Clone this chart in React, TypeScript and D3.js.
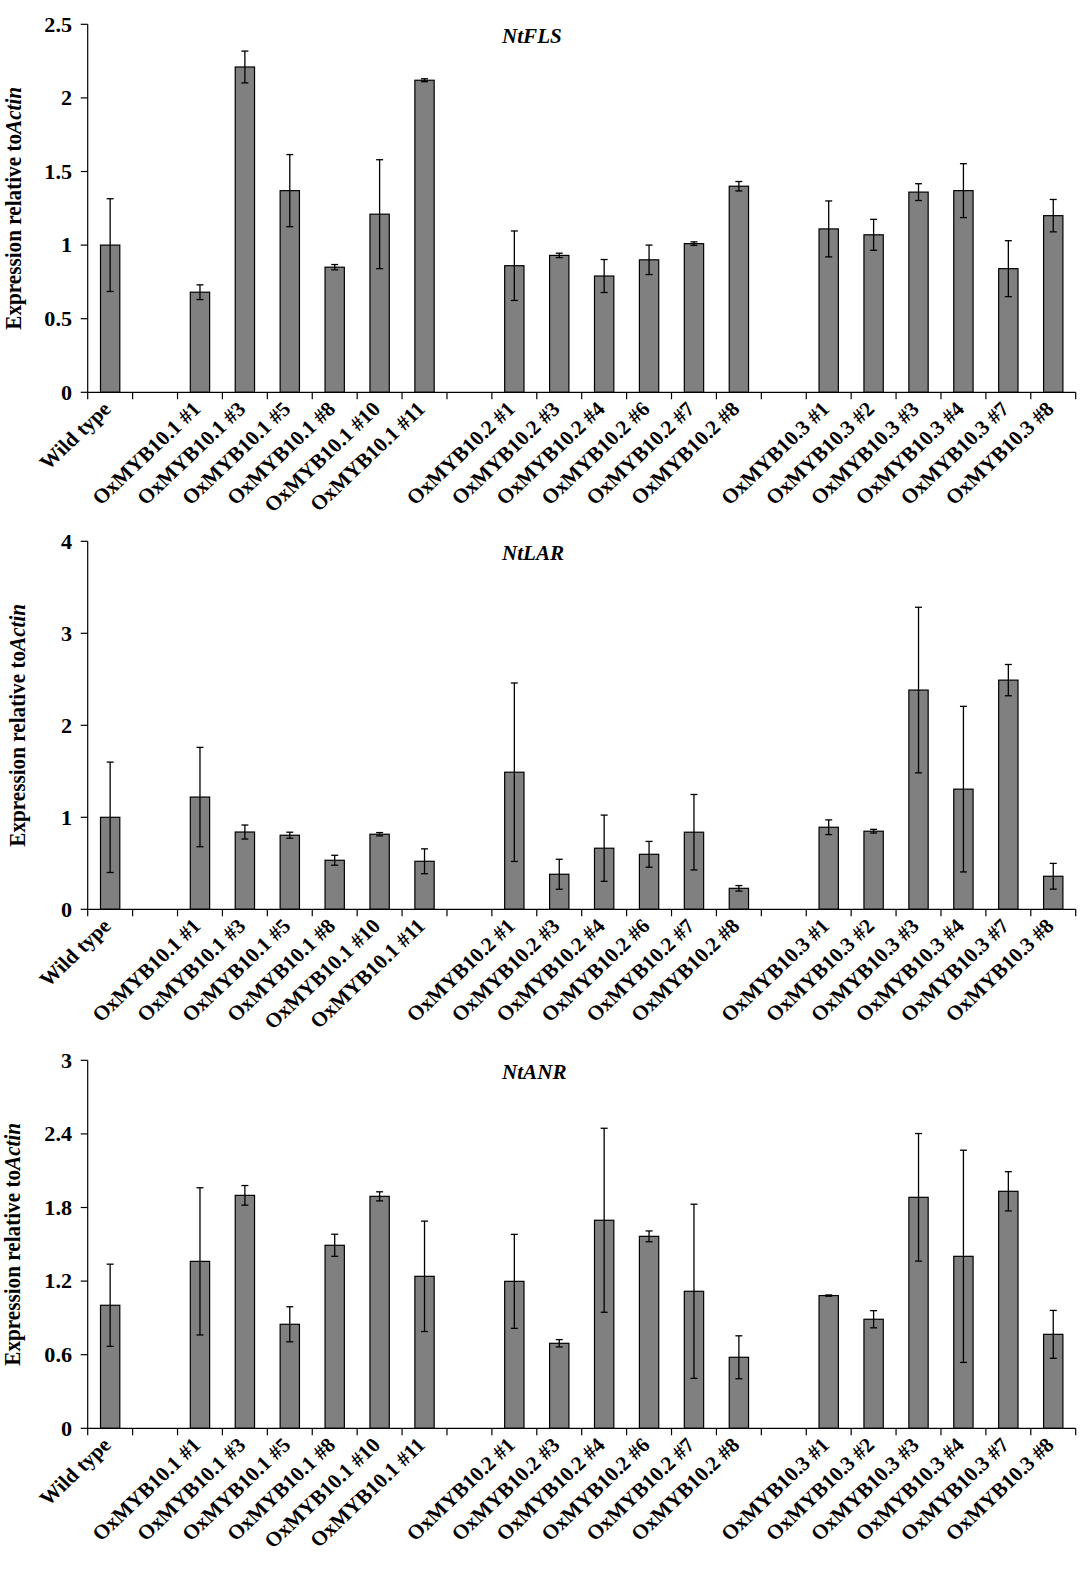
import React from 'react';
import * as d3 from 'd3';

// lines shown on every panel, groups separated by an empty slot
const wildType = ['Wild type'];
const myb101 = ['OxMYB10.1 #1', 'OxMYB10.1 #3', 'OxMYB10.1 #5', 'OxMYB10.1 #8', 'OxMYB10.1 #10', 'OxMYB10.1 #11'];
const myb102 = ['OxMYB10.2 #1', 'OxMYB10.2 #3', 'OxMYB10.2 #4', 'OxMYB10.2 #6', 'OxMYB10.2 #7', 'OxMYB10.2 #8'];
const myb103 = ['OxMYB10.3 #1', 'OxMYB10.3 #2', 'OxMYB10.3 #3', 'OxMYB10.3 #4', 'OxMYB10.3 #7', 'OxMYB10.3 #8'];

const flsMean = [1.0, 0.68, 2.21, 1.37, 0.85, 1.21, 2.12, 0.86, 0.93, 0.79, 0.9, 1.01, 1.4, 1.11, 1.07, 1.36, 1.37, 0.84, 1.2];
const flsErr = [0.315, 0.05, 0.108, 0.245, 0.018, 0.37, 0.01, 0.236, 0.015, 0.112, 0.1, 0.012, 0.032, 0.19, 0.105, 0.057, 0.183, 0.19, 0.11];

const larMean = [1.0, 1.22, 0.84, 0.805, 0.533, 0.816, 0.522, 1.49, 0.381, 0.664, 0.598, 0.838, 0.228, 0.892, 0.849, 2.383, 1.306, 2.491, 0.359];
const larErr = [0.6, 0.54, 0.076, 0.033, 0.054, 0.018, 0.135, 0.97, 0.163, 0.36, 0.14, 0.41, 0.03, 0.08, 0.02, 0.9, 0.9, 0.17, 0.14];

const anrMean = [1.003, 1.361, 1.899, 0.848, 1.492, 1.891, 1.239, 1.198, 0.693, 1.696, 1.565, 1.117, 0.579, 1.082, 0.889, 1.883, 1.402, 1.932, 0.766];
const anrErr = [0.335, 0.6, 0.08, 0.143, 0.09, 0.037, 0.45, 0.383, 0.03, 0.75, 0.044, 0.71, 0.175, 0.005, 0.07, 0.52, 0.865, 0.16, 0.195];

const flsTicks = [0, 0.5, 1, 1.5, 2, 2.5];
const larTicks = [0, 1, 2, 3, 4];
const anrTicks = [0, 0.6, 1.2, 1.8, 2.4, 3];

const WIDTH = 1092;
const HEIGHT = 1570;
const LEFT = 87.7;
const RIGHT = 1075.7;
const PLOT_H = 368;
const FONT = '"Liberation Serif", "Times New Roman", serif';
// the figure's text is a little wider than plain Times
const STRETCH = 1.055;

const lines = [...wildType, ...myb101, ...myb102, ...myb103];
// slot keys: empty slots between the groups
const slots = [...wildType, 'gap1', ...myb101, 'gap2', ...myb102, 'gap3', ...myb103];

const x = d3.scaleBand<string>().domain(slots).range([LEFT, RIGHT]).padding(0);

interface PanelProps {
  gene: string;
  mean: number[];
  err: number[];
  ticks: number[];
  top: number;
  titleX: number;
}

function Panel({ gene, mean, err, ticks, top, titleX }: PanelProps) {
  const y = d3
    .scaleLinear()
    .domain([0, ticks[ticks.length - 1]])
    .range([top + PLOT_H, top]);
  const y0 = y(0);
  const bw = x.bandwidth() * 0.43;
  const fmt = (v: number) => `${+v.toFixed(2)}`;

  return (
    <g>
      {/* bars */}
      {lines.map((l, i) => {
        const cx = (x(l) as number) + x.bandwidth() / 2;
        return (
          <rect
            key={`bar-${l}`}
            x={cx - bw / 2}
            y={y(mean[i])}
            width={bw}
            height={y0 - y(mean[i])}
            fill="#808080"
            stroke="#000"
            strokeWidth={1.2}
          />
        );
      })}
      {/* error bars */}
      {lines.map((l, i) => {
        const cx = (x(l) as number) + x.bandwidth() / 2;
        const hi = y(mean[i] + err[i]);
        const lo = y(mean[i] - err[i]);
        return (
          <g key={`err-${l}`} stroke="#000" strokeWidth={1.3}>
            <line x1={cx} x2={cx} y1={hi} y2={lo} />
            <line x1={cx - 3.5} x2={cx + 3.5} y1={hi} y2={hi} />
            <line x1={cx - 3.5} x2={cx + 3.5} y1={lo} y2={lo} />
          </g>
        );
      })}
      {/* y axis */}
      <line x1={LEFT} x2={LEFT} y1={y(ticks[ticks.length - 1])} y2={y0} stroke="#000" strokeWidth={1.2} />
      {ticks.map((t) => (
        <g key={`yt-${t}`}>
          <line x1={LEFT - 7} x2={LEFT} y1={y(t)} y2={y(t)} stroke="#000" strokeWidth={1.2} />
          <text
            transform={`translate(72,${y(t)}) scale(${STRETCH},1)`}
            dy="0.35em"
            textAnchor="end"
            fontFamily={FONT}
            fontWeight="bold"
            fontSize={21}
          >
            {fmt(t)}
          </text>
        </g>
      ))}
      {/* x axis */}
      <line x1={LEFT} x2={RIGHT} y1={y0} y2={y0} stroke="#000" strokeWidth={1.2} />
      {[...slots.map((s) => x(s) as number), RIGHT].map((px, i) => (
        <line key={`xt-${i}`} x1={px} x2={px} y1={y0} y2={y0 + 7} stroke="#000" strokeWidth={1.2} />
      ))}
      {lines.map((l) => {
        const cx = (x(l) as number) + x.bandwidth() / 2;
        return (
          <text
            key={`xl-${l}`}
            transform={`translate(${cx + 2},${y0 + 18}) scale(${STRETCH},1) rotate(-45)`}
            textAnchor="end"
            fontFamily={FONT}
            fontWeight="bold"
            fontSize={20.5}
          >
            {l}
          </text>
        );
      })}
      {/* y title */}
      <text
        transform={`translate(${titleX},${top + PLOT_H / 2}) scale(${STRETCH},1) rotate(-90)`}
        textAnchor="middle"
        fontFamily={FONT}
        fontWeight="bold"
        fontSize={21.2}
      >
        Expression relative to<tspan fontStyle="italic">Actin</tspan>
      </text>
      {/* gene title */}
      <text
        transform={`translate(502,${top + 18.5}) scale(${STRETCH},1)`}
        fontFamily={FONT}
        fontWeight="bold"
        fontStyle="italic"
        fontSize={20}
      >
        {gene}
      </text>
    </g>
  );
}

export default function App() {
  return (
    <svg
      width={WIDTH}
      height={HEIGHT}
      viewBox={`0 0 ${WIDTH} ${HEIGHT}`}
      style={{ position: 'absolute', left: 0, top: 0, background: '#fff' }}
    >
      <rect width={WIDTH} height={HEIGHT} fill="#fff" />
      <Panel gene="NtFLS" mean={flsMean} err={flsErr} ticks={flsTicks} top={24.3} titleX={20.5} />
      <Panel gene="NtLAR" mean={larMean} err={larErr} ticks={larTicks} top={541.3} titleX={25} />
      <Panel gene="NtANR" mean={anrMean} err={anrErr} ticks={anrTicks} top={1060.3} titleX={20} />
    </svg>
  );
}
